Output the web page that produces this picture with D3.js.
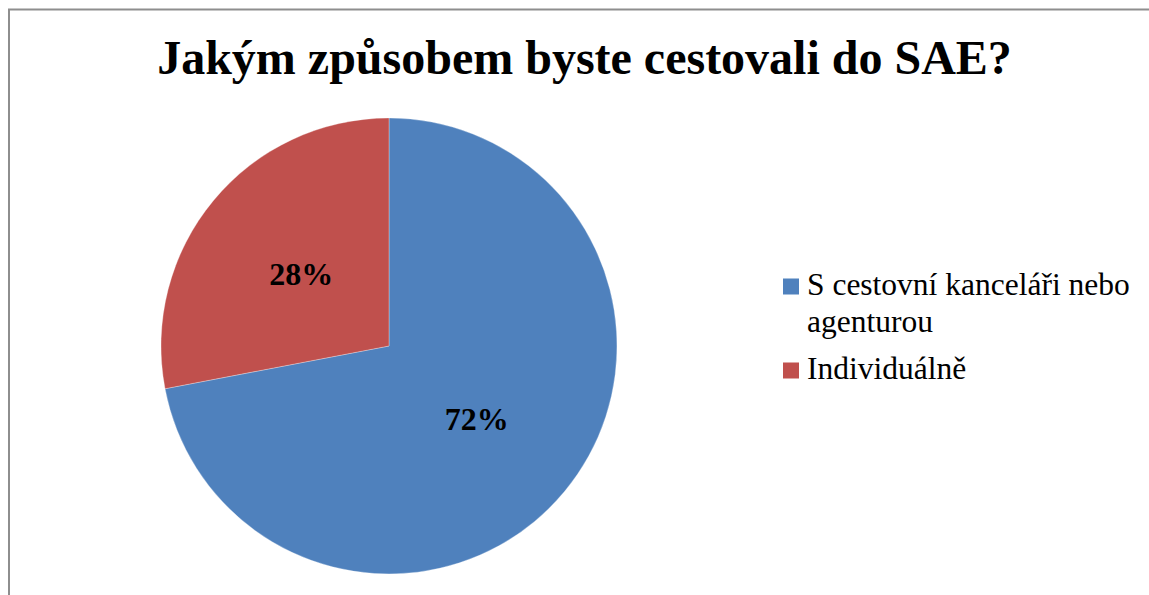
<!DOCTYPE html>
<html>
<head>
<meta charset="utf-8">
<script src="https://cdn.jsdelivr.net/npm/d3@7"></script>
<style>
  html, body { margin: 0; padding: 0; background: #fff; overflow: hidden; }
  svg { display: block; }
</style>
</head>
<body>
<svg id="chart" width="1149" height="595"></svg>
<script>
const title = 'Jakým způsobem byste cestovali do SAE?';
const categories = ['S cestovní kanceláři nebo agenturou', 'Individuálně'];
const legendLines = [['S cestovní kanceláři nebo', 'agenturou'], ['Individuálně']];
const values = [72, 28];
const colors = ['#4f81bd', '#c0504d'];

const width = 1149, height = 595;
const svg = d3.select('#chart');
const font = "'Liberation Serif', 'Times New Roman', serif";

// chart frame (only top and left edges are inside the picture)
svg.append('path')
    .attr('d', `M9,${height} L9,9.5 L${width},9.5`)
    .attr('fill', 'none')
    .attr('stroke', '#8e8e8e')
    .attr('stroke-width', 2);

// title
svg.append('text')
    .attr('x', 584.5)
    .attr('y', 74)
    .attr('text-anchor', 'middle')
    .style('font-family', font)
    .style('font-weight', 'bold')
    .style('font-size', '48px')
    .attr('fill', '#000')
    .text(title);

// pie
const cx = 389, cy = 346, r = 228;
const g = svg.append('g').attr('transform', `translate(${cx},${cy})`);

const pie = d3.pie().sort(null).value(d => d);
const arcs = pie(values);
const arc = d3.arc().innerRadius(0).outerRadius(r);
const labelArc = d3.arc().innerRadius(r * 0.5).outerRadius(r * 0.5);

g.selectAll('path.slice')
    .data(arcs)
    .join('path')
    .attr('class', 'slice')
    .attr('d', arc)
    .attr('fill', (d, i) => colors[i])
    .attr('stroke', '#fff')
    .attr('stroke-width', 0.5)
    .attr('stroke-opacity', 0.6);

g.selectAll('text.label')
    .data(arcs)
    .join('text')
    .attr('class', 'label')
    .attr('transform', d => `translate(${labelArc.centroid(d)})`)
    .attr('dy', '0.35em')
    .attr('text-anchor', 'middle')
    .style('font-family', font)
    .style('font-weight', 'bold')
    .style('font-size', '32px')
    .attr('fill', '#000')
    .text(d => `${d.data}%`);

// legend
const legend = svg.append('g').attr('transform', 'translate(783,0)');
const legendY = [295, 379];
const lineGap = 37;

categories.forEach((c, i) => {
    const item = legend.append('g');
    item.append('rect')
        .attr('x', 0)
        .attr('y', legendY[i] - 16.5)
        .attr('width', 16)
        .attr('height', 16)
        .attr('fill', colors[i]);
    const t = item.append('text')
        .attr('x', 24)
        .attr('y', legendY[i])
        .style('font-family', font)
        .style('font-size', '31.5px')
        .attr('fill', '#000');
    legendLines[i].forEach((line, j) => {
        t.append('tspan')
            .attr('x', 24)
            .attr('dy', j === 0 ? 0 : lineGap)
            .text(line);
    });
});
</script>
</body>
</html>
